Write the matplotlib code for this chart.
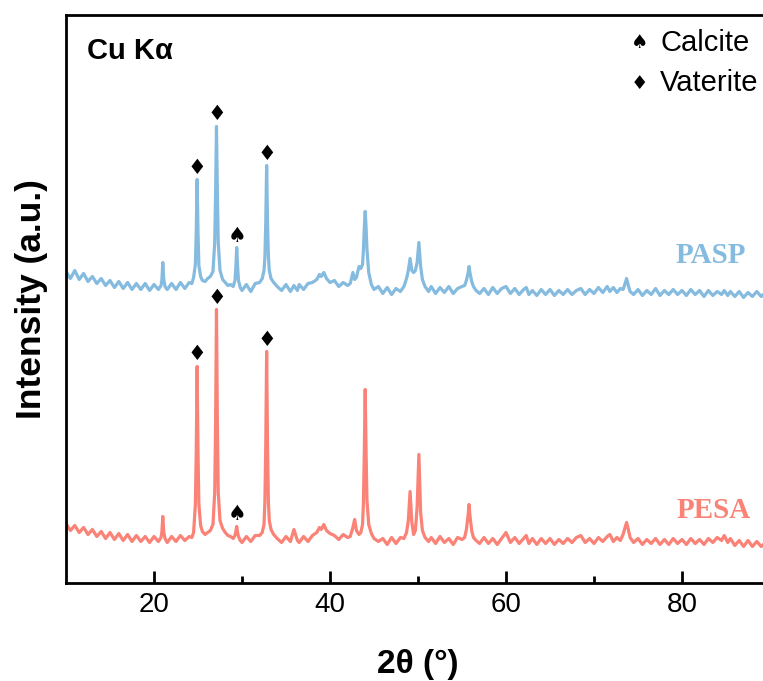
import matplotlib
matplotlib.use("Agg")
import matplotlib.pyplot as plt
from matplotlib.ticker import FixedLocator
import numpy as np

# ---------------- data ----------------
two_theta = [
    10.0,10.5,11.0,11.5,12.0,12.5,13.0,13.5,14.0,14.5,15.0,15.5,16.0,16.5,17.0,17.5,18.0,18.5,19.0,19.5,20.0,20.5,
    20.8,20.9,21.0,21.1,21.25,21.5,22.0,22.5,23.0,23.5,
    24.0,24.3,24.5,24.7,24.8,24.9,25.0,25.1,25.3,25.5,25.8,26.1,
    26.4,26.7,26.9,27.0,27.1,27.2,27.3,27.5,27.8,28.1,28.4,28.7,
    29.0,29.2,29.3,29.4,29.5,29.6,29.8,30.0,30.5,31.0,31.5,
    32.0,32.3,32.5,32.6,32.7,32.8,32.9,33.0,33.1,33.3,33.6,34.0,
    34.5,35.0,35.5,35.9,36.3,36.5,37.0,37.5,38.0,
    38.5,38.8,39.0,39.3,39.6,40.0,40.5,41.0,41.5,42.0,
    42.3,42.6,42.8,43.0,43.3,43.5,43.7,43.8,43.9,44.0,44.1,44.2,44.4,44.7,45.0,45.5,
    46.0,46.5,47.0,47.5,48.0,
    48.4,48.7,48.9,49.0,49.1,49.2,49.3,49.5,49.7,49.9,50.0,50.1,50.2,50.3,50.5,50.8,51.2,
    51.5,52.0,52.5,53.0,53.5,54.0,54.5,55.0,
    55.3,55.5,55.7,55.8,55.9,56.1,56.3,56.6,57.0,
    57.5,58.0,58.5,59.0,59.5,60.0,60.5,61.0,61.5,62.0,62.3,62.6,63.0,63.5,64.0,64.5,65.0,65.5,66.0,66.5,67.0,67.5,
    68.0,68.5,69.0,69.5,70.0,70.5,71.0,71.5,71.8,72.2,72.6,73.0,73.3,73.5,73.7,73.9,74.1,74.5,
    75.0,75.5,76.0,76.5,77.0,77.5,78.0,78.5,79.0,79.5,80.0,80.5,81.0,81.5,82.0,82.5,83.0,83.5,84.0,84.5,84.8,85.2,
    85.5,86.0,86.5,87.0,87.5,88.0,88.5,89.0,89.5,90.0,
]

# PASP pattern (already stacked above PESA)
pasp = [
    311,304,312,303,309,301,306,299,304,297,302,295,301,294,300,293,299,293,299,292,298,293,
    297,303,320,304,296,293,299,293,300,294,
    300,299,305,318,350,403,350,317,306,302,301,304,
    306,311,340,390,456,390,340,312,303,300,297,298,
    296,302,315,335,316,302,295,292,298,291,299,
    300,304,312,325,360,417,360,326,312,304,300,296,
    292,298,291,297,292,298,293,299,300,
    303,308,306,310,304,300,302,296,300,297,
    299,310,303,305,316,314,318,333,355,371,355,333,310,298,293,296,
    289,295,288,294,291,
    296,304,312,318,324,318,312,310,312,320,330,340,328,316,303,296,291,
    296,289,295,290,296,289,294,296,
    297,302,310,316,310,301,296,292,289,
    294,288,295,289,294,296,289,294,288,293,295,288,292,287,293,288,293,287,292,288,293,288,
    292,294,288,293,289,295,290,296,291,295,290,294,293,298,304,297,291,288,
    293,287,292,288,294,287,292,288,293,288,292,287,293,288,292,286,292,287,291,288,292,287,
    291,286,291,285,290,286,291,286,290,287,
]

# PESA pattern
pesa = [
    59,52,57,50,55,48,53,46,51,44,50,43,49,42,48,41,47,41,46,40,46,41,
    45,51,66,51,44,40,46,41,47,42,
    46,45,50,78,130,216,130,78,57,51,48,50,
    52,58,90,160,273,160,90,62,54,50,47,46,
    44,47,51,56,50,46,42,40,46,41,47,
    47,50,58,80,137,231,137,80,62,53,48,44,
    40,46,41,53,42,40,46,41,47,
    50,55,53,58,52,49,47,43,48,45,
    46,55,63,52,48,50,58,80,130,193,130,82,58,49,44,41,
    44,38,45,39,45,
    44,50,62,76,91,76,60,48,52,75,100,128,100,70,52,45,41,
    45,39,46,40,44,38,45,43,
    45,53,68,78,67,52,45,42,39,
    45,39,44,38,44,50,40,45,39,44,47,39,44,38,44,39,44,38,43,39,44,40,
    45,47,40,44,39,45,41,46,48,41,45,42,48,54,60,53,45,40,
    44,38,43,39,44,38,43,38,44,39,43,38,44,39,43,38,44,40,45,42,47,40,
    44,37,42,36,42,36,41,36,40,37,
]

assert len(two_theta) == len(pasp) == len(pesa), (len(two_theta), len(pasp), len(pesa))

vaterite_peaks = [24.9, 27.1, 32.8]
calcite_peaks = [29.4]
x_ticks = [20, 40, 60, 80]
x_minor = [30, 50, 70]

col_pasp = "#84BBDF"
col_pesa = "#FA8276"

# ---------------- figure ----------------
W, H = 763, 681
fig = plt.figure(figsize=(W / 100, H / 100), dpi=100)
ax = fig.add_axes([66 / W, (H - 582.5) / H, 704 / W, 567.5 / H])

ax.plot(two_theta, pasp, color=col_pasp, lw=2.3, solid_joinstyle="round")
ax.plot(two_theta, pesa, color=col_pesa, lw=2.3, solid_joinstyle="round")

ax.set_xlim(10, 90)
ax.set_ylim(0, 567.5)

sans = ["Liberation Sans", "DejaVu Sans"]
serif = ["Liberation Serif", "DejaVu Serif"]

# peak markers
gap = 12
for series in (pasp, pesa):
    for p in vaterite_peaks:
        y = series[two_theta.index(p)]
        ax.text(p, y + gap, "\u2666", ha="center", va="center", fontsize=15,
                family=["DejaVu Sans"], color="black")
    for p in calcite_peaks:
        y = series[two_theta.index(p)]
        ax.text(p, y + gap, "\u2660", ha="center", va="center", fontsize=15,
                family=["DejaVu Sans"], color="black")

# spines / ticks
for s in ["left", "bottom", "top", "right"]:
    ax.spines[s].set_linewidth(2.0)
ax.set_yticks([])
ax.set_xticks(x_ticks)
ax.xaxis.set_minor_locator(FixedLocator(x_minor))
ax.tick_params(axis="x", which="major", direction="in", length=9, width=2,
               labelsize=20, pad=7)
ax.tick_params(axis="x", which="minor", direction="in", length=5, width=2)
for lab in ax.get_xticklabels():
    lab.set_family(sans)

ax.set_xlabel("2θ (°)", fontsize=24, fontweight="bold", family=sans)
ax.xaxis.set_label_coords(0.5, -0.118)
ax.set_ylabel("Intensity (a.u.)", fontsize=25.5, fontweight="bold", family=sans)
ax.yaxis.set_label_coords(-0.026, 0.5)

# annotations
ax.text(0.030, 0.9366, "Cu Kα", transform=ax.transAxes, fontsize=21,
        fontweight="bold", family=sans, ha="left", va="center")

ax.text(0.815, 0.951, "\u2660", transform=ax.transAxes, fontsize=14,
        family=["DejaVu Sans"], ha="center", va="center")
ax.text(0.844, 0.951, "Calcite", transform=ax.transAxes, fontsize=21,
        family=sans, ha="left", va="center")
ax.text(0.815, 0.880, "\u2666", transform=ax.transAxes, fontsize=14,
        family=["DejaVu Sans"], ha="center", va="center")
ax.text(0.844, 0.880, "Vaterite", transform=ax.transAxes, fontsize=21,
        family=sans, ha="left", va="center")

ax.text(0.916, 1 - (256 - 15) / 567.5, "PASP", transform=ax.transAxes, fontsize=21,
        fontweight="bold", family=serif, color=col_pasp, ha="center", va="center")
ax.text(0.920, 1 - (511 - 15) / 567.5, "PESA", transform=ax.transAxes, fontsize=21,
        fontweight="bold", family=serif, color=col_pesa, ha="center", va="center")

fig.savefig("out.png", dpi=100)
